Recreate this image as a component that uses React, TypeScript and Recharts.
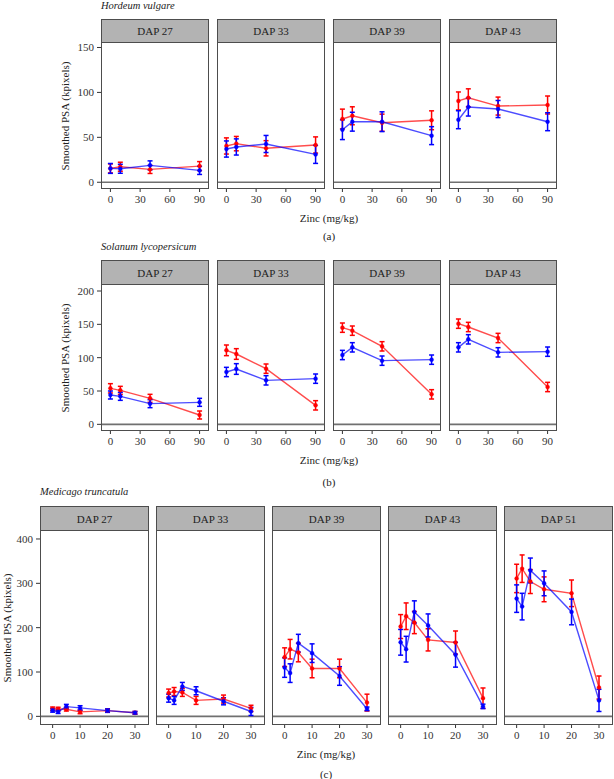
import React from 'react';
import { LineChart, Line, XAxis, YAxis, ErrorBar, ReferenceLine } from 'recharts';

const RED = '#ff0000';
const BLUE = '#0000ff';
const FONT = '"Liberation Serif", "Times New Roman", "DejaVu Serif", serif';
const INK = '#333333';

// zinc doses and facet labels
const zincAB = [0, 10, 40, 90];
const zincC = [0, 2, 5, 10, 20, 30];
const dapAB = ['DAP 27', 'DAP 33', 'DAP 39', 'DAP 43'];
const dapC = ['DAP 27', 'DAP 33', 'DAP 39', 'DAP 43', 'DAP 51'];
const xTicksAB = [0, 30, 60, 90];
const xTicksC = [0, 10, 20, 30];
const yTicksA = [0, 50, 100, 150];
const yTicksB = [0, 50, 100, 150, 200];
const yTicksC = [0, 100, 200, 300, 400];

// (a) Hordeum vulgare, one row per DAP
const hordeumRed = [
  [15.4, 17.3, 14.3, 18],
  [40.4, 43, 37.8, 41.5],
  [70.4, 74, 66.3, 69],
  [90.5, 94, 84.8, 86],
];
const hordeumRedSe = [
  [5, 5, 4.5, 5],
  [9, 8, 8.5, 9],
  [11, 10, 9.5, 10.5],
  [10, 10, 10, 10],
];
const hordeumBlue = [
  [15.4, 15, 18.8, 13.2],
  [37, 39.3, 42.6, 31],
  [58.5, 67.4, 67.4, 51.9],
  [69.6, 83.7, 81.5, 67.4],
];
const hordeumBlueSe = [
  [5.5, 5, 5, 4.5],
  [9, 9, 9.5, 10],
  [11, 10.5, 11, 10],
  [10, 10, 9.5, 10],
];

// (b) Solanum lycopersicum
const solanumRed = [
  [54, 51, 39, 14],
  [111, 105.5, 83.5, 28.5],
  [145, 140.5, 117, 45],
  [151, 146, 129.5, 56],
];
const solanumRedSe = [
  [7, 6, 6, 6],
  [8, 8, 7, 7],
  [7, 7, 7, 7],
  [7, 7, 7, 7],
];
const solanumBlue = [
  [44, 42, 31, 33],
  [78.5, 83, 66, 68.5],
  [104, 115.5, 95.5, 97],
  [115.5, 127.5, 108, 109],
];
const solanumBlueSe = [
  [6, 6, 6, 6],
  [7, 8, 7, 7],
  [7, 7, 7, 7],
  [7, 7, 7, 7],
];

// (c) Medicago truncatula
const medicagoRed = [
  [17, 16.5, 16, 10, 13, 8],
  [52.5, 56, 54, 36, 39, 18],
  [133.5, 151.5, 144, 108, 108, 31],
  [202.5, 225.8, 211.5, 172.5, 166.5, 41],
  [311, 333, 304, 286.5, 277.5, 65],
];
const medicagoRedSe = [
  [4, 4, 4, 4, 3, 3],
  [9, 9, 9, 9, 9, 7],
  [21, 22, 21, 21, 21, 19],
  [27, 30, 25, 25, 26, 23],
  [32, 31, 27, 28, 30, 26],
];
const medicagoBlue = [
  [13.5, 10.5, 22, 19, 13, 8],
  [41, 36, 67.5, 57.7, 34, 11],
  [110, 97.5, 165, 142.5, 91, 17],
  [167, 151.5, 235.5, 205, 139, 22.5],
  [265.5, 247.5, 329, 300, 235.5, 36],
];
const medicagoBlueSe = [
  [4, 4, 5, 5, 4, 3],
  [9, 9, 9, 9, 8, 9],
  [22, 21, 20, 21, 21, 4],
  [29, 29, 25, 26, 28, 5],
  [31, 30, 28, 28, 29, 25],
];

type RowProps = {
  title: string;
  tag: string;
  dap: string[];
  zinc: number[];
  xTicks: number[];
  yTicks: number[];
  xDomain: [number, number];
  yDomain: [number, number];
  red: number[][];
  redSe: number[][];
  blue: number[][];
  blueSe: number[][];
  layout: {
    titleX: number;
    titleY: number;
    stripTop: number;
    stripH: number;
    bodyH: number;
    lefts: number[];
    panelW: number;
    yAxisW: number;
    yLabelX: number;
    zincX: number;
    zincY: number;
    tagY: number;
    fontSize: number;
  };
};

const X_AXIS_H = 20;
const PAD_TOP = 10; // room above the panel so the top tick label is not clipped

function centered(x: number, y: number, fontSize: number, extra: React.CSSProperties = {}) {
  return {
    position: 'absolute' as const,
    left: x,
    top: y,
    transform: 'translate(-50%, -50%)',
    whiteSpace: 'nowrap' as const,
    fontFamily: FONT,
    fontSize,
    color: '#222',
    lineHeight: 1,
    ...extra,
  };
}

function FacetRow(props: RowProps) {
  const { layout: L } = props;
  const bodyTop = L.stripTop + L.stripH;
  const tickStyle = { fill: INK, fontSize: L.fontSize, fontFamily: FONT };

  return (
    <>
      <div
        style={{
          position: 'absolute',
          left: L.titleX,
          top: L.titleY,
          transform: 'translateY(-50%)',
          fontFamily: FONT,
          fontStyle: 'italic',
          fontSize: L.fontSize - 0.5,
          color: '#222',
          lineHeight: 1,
          whiteSpace: 'nowrap',
        }}
      >
        {props.title}
      </div>

      <div style={centered(L.yLabelX, bodyTop + L.bodyH / 2, L.fontSize, { transform: 'translate(-50%, -50%) rotate(-90deg)' })}>
        Smoothed PSA (kpixels)
      </div>

      {props.dap.map((label, i) => {
        const first = i === 0;
        const chartLeft = L.lefts[i] - (first ? L.yAxisW : 0);
        const chartW = L.panelW + (first ? L.yAxisW : 0);
        const data = props.zinc.map((z, j) => ({
          zinc: z,
          red: props.red[i][j],
          redSe: props.redSe[i][j],
          blue: props.blue[i][j],
          blueSe: props.blueSe[i][j],
        }));
        return (
          <React.Fragment key={label}>
            <div style={{ position: 'absolute', left: chartLeft, top: bodyTop - PAD_TOP }}>
              <LineChart
                width={chartW}
                height={L.bodyH + X_AXIS_H + PAD_TOP}
                data={data}
                margin={{ top: PAD_TOP, right: 0, bottom: 0, left: 0 }}
              >
                <XAxis
                  dataKey="zinc"
                  type="number"
                  domain={props.xDomain}
                  ticks={props.xTicks}
                  allowDataOverflow
                  interval={0}
                  height={X_AXIS_H}
                  axisLine={false}
                  tickSize={3}
                  tickMargin={3}
                  tickLine={{ stroke: INK, strokeWidth: 1 }}
                  tick={tickStyle}
                />
                <YAxis
                  type="number"
                  domain={props.yDomain}
                  ticks={props.yTicks}
                  allowDataOverflow
                  interval={0}
                  hide={!first}
                  width={first ? L.yAxisW : 0}
                  axisLine={false}
                  tickSize={4}
                  tickMargin={3}
                  tickLine={{ stroke: INK, strokeWidth: 1 }}
                  tick={tickStyle}
                />
                <ReferenceLine y={0} stroke="#707070" strokeWidth={1.6} />
                <Line
                  type="linear"
                  dataKey="red"
                  stroke={RED}
                  strokeOpacity={0.7}
                  strokeWidth={1.4}
                  dot={{ r: 2, fill: RED, stroke: RED, strokeWidth: 0.5 }}
                  isAnimationActive={false}
                >
                  <ErrorBar dataKey="redSe" direction="y" width={2.5} stroke={RED} strokeWidth={1.5} isAnimationActive={false} />
                </Line>
                <Line
                  type="linear"
                  dataKey="blue"
                  stroke={BLUE}
                  strokeOpacity={0.7}
                  strokeWidth={1.4}
                  dot={{ r: 2, fill: BLUE, stroke: BLUE, strokeWidth: 0.5 }}
                  isAnimationActive={false}
                >
                  <ErrorBar dataKey="blueSe" direction="y" width={2.5} stroke={BLUE} strokeWidth={1.5} isAnimationActive={false} />
                </Line>
              </LineChart>
            </div>
            <div
              style={{
                position: 'absolute',
                left: L.lefts[i],
                top: L.stripTop,
                width: L.panelW,
                height: L.stripH,
                boxSizing: 'border-box',
                background: '#b3b3b3',
                border: '1.3px solid #4d4d4d',
                display: 'flex',
                alignItems: 'center',
                justifyContent: 'center',
                fontFamily: FONT,
                fontWeight: 'normal',
                fontSize: L.fontSize,
                color: '#222',
              }}
            >
              {label}
            </div>
            <div
              style={{
                position: 'absolute',
                left: L.lefts[i],
                top: bodyTop,
                width: L.panelW,
                height: L.bodyH,
                boxSizing: 'border-box',
                border: '1.3px solid #4d4d4d',
                borderTop: 'none',
                pointerEvents: 'none',
              }}
            />
          </React.Fragment>
        );
      })}

      <div style={centered(L.zincX, L.zincY, L.fontSize)}>Zinc (mg/kg)</div>
      <div style={centered(L.zincX, L.tagY, L.fontSize)}>{props.tag}</div>
    </>
  );
}

export default function App() {
  return (
    <div
      style={{
        position: 'absolute',
        left: 0,
        top: 0,
        width: 614,
        height: 779,
        background: '#ffffff',
        overflow: 'hidden',
      }}
    >
      <FacetRow
        title="Hordeum vulgare"
        tag="(a)"
        dap={dapAB}
        zinc={zincAB}
        xTicks={xTicksAB}
        yTicks={yTicksA}
        xDomain={[-9.5, 99.5]}
        yDomain={[-7.5, 155]}
        red={hordeumRed}
        redSe={hordeumRedSe}
        blue={hordeumBlue}
        blueSe={hordeumBlueSe}
        layout={{
          titleX: 101,
          titleY: 6,
          stripTop: 19,
          stripH: 24,
          bodyH: 146,
          lefts: [101, 217, 333, 449],
          panelW: 108,
          yAxisW: 40,
          yLabelX: 65,
          zincX: 329,
          zincY: 218,
          tagY: 236,
          fontSize: 11,
        }}
      />
      <FacetRow
        title="Solanum lycopersicum"
        tag="(b)"
        dap={dapAB}
        zinc={zincAB}
        xTicks={xTicksAB}
        yTicks={yTicksB}
        xDomain={[-9.5, 99.5]}
        yDomain={[-10, 209]}
        red={solanumRed}
        redSe={solanumRedSe}
        blue={solanumBlue}
        blueSe={solanumBlueSe}
        layout={{
          titleX: 101,
          titleY: 247,
          stripTop: 260,
          stripH: 25,
          bodyH: 146,
          lefts: [101, 217, 333, 449],
          panelW: 108,
          yAxisW: 40,
          yLabelX: 65,
          zincX: 329,
          zincY: 460,
          tagY: 482,
          fontSize: 11,
        }}
      />
      <FacetRow
        title="Medicago truncatula"
        tag="(c)"
        dap={dapC}
        zinc={zincC}
        xTicks={xTicksC}
        yTicks={yTicksC}
        xDomain={[-4.6, 35.1]}
        yDomain={[-19.5, 418]}
        red={medicagoRed}
        redSe={medicagoRedSe}
        blue={medicagoBlue}
        blueSe={medicagoBlueSe}
        layout={{
          titleX: 40,
          titleY: 492,
          stripTop: 506,
          stripH: 25,
          bodyH: 194,
          lefts: [40, 156, 272, 388, 504],
          panelW: 109,
          yAxisW: 30,
          yLabelX: 7,
          zincX: 326,
          zincY: 754,
          tagY: 774,
          fontSize: 11,
        }}
      />
    </div>
  );
}
